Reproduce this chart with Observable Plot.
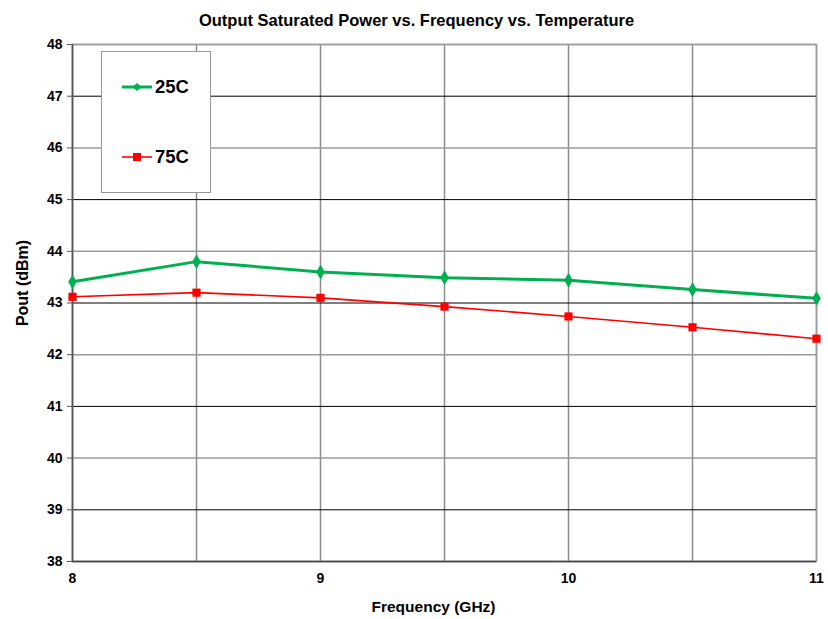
<!DOCTYPE html>
<html>
<head>
<meta charset="utf-8">
<script src="https://cdn.jsdelivr.net/npm/d3@7"></script>
<script src="https://cdn.jsdelivr.net/npm/@observablehq/plot@0.6"></script>
<style>
  html, body { margin: 0; padding: 0; background: #fff; }
  #wrap { position: relative; width: 828px; height: 619px; }
  #legend { position: absolute; left: 101px; top: 51px; width: 110px; height: 142px;
    border: 1.5px solid #999; background: #fff; box-sizing: border-box;
    font-family: "Liberation Sans", Arial, sans-serif; font-weight: bold; font-size: 18.5px; color: #000; }
  .item { position: absolute; left: 20px; display: flex; align-items: center; }
  .item svg { margin-right: 2px; }
</style>
</head>
<body>
<div id="wrap"></div>
<script>
const freq = [8, 8.5, 9, 9.5, 10, 10.5, 11];
const pout25 = [43.41, 43.80, 43.60, 43.49, 43.44, 43.26, 43.09];
const pout75 = [43.12, 43.20, 43.10, 42.93, 42.74, 42.53, 42.31];
const seriesNames = ["25C", "75C"];
const seriesColors = ["#00B050", "#FF0000"];
const yTicks = [38, 39, 40, 41, 42, 43, 44, 45, 46, 47, 48];
const xTicks = [8, 9, 10, 11];
const xGrid = [8, 8.5, 9, 9.5, 10, 10.5, 11];
const titleText = "Output Saturated Power vs. Frequency vs. Temperature";
const xLabel = "Frequency (GHz)";
const yLabel = "Pout (dBm)";

const d25 = freq.map((f, i) => ({f, p: pout25[i]}));
const d75 = freq.map((f, i) => ({f, p: pout75[i]}));

const font = "Liberation Sans, Arial, sans-serif";

const chart = Plot.plot({
  width: 828,
  height: 619,
  marginLeft: 72,
  marginRight: 12,
  marginTop: 44,
  marginBottom: 58,
  style: {fontFamily: font, background: "#fff", overflow: "visible"},
  x: {domain: [8, 11]},
  y: {domain: [38, 48]},
  marks: [
    Plot.ruleX(xGrid, {stroke: "#8c8c8c", strokeWidth: 1.5}),
    Plot.ruleY(yTicks.filter(d => d % 2 === 0), {stroke: "#9a9a9a", strokeWidth: 1.5}),
    Plot.ruleY(yTicks.filter(d => d % 2 === 1), {stroke: "#000", strokeWidth: 1}),
    Plot.frame({stroke: "#9a9a9a", strokeWidth: 1.5}),
    Plot.ruleX([8], {stroke: "#555", strokeWidth: 1.5}),
    Plot.ruleY([38], {stroke: "#444", strokeWidth: 1.5}),
    Plot.axisY({ticks: yTicks, tickSize: 5, tickPadding: 5, tickFormat: d => d, label: null,
      fontSize: 14, fontWeight: "bold", stroke: "#555", color: "#000"}),
    Plot.axisX({ticks: xTicks, tickSize: 0, tickPadding: 12, tickFormat: d => d, label: null,
      fontSize: 14, fontWeight: "bold", color: "#000"}),
    Plot.line(d75, {x: "f", y: "p", stroke: seriesColors[1], strokeWidth: 1.6}),
    Plot.dot(d75, {x: "f", y: "p", symbol: "square", fill: seriesColors[1], r: 4.6}),
    Plot.line(d25, {x: "f", y: "p", stroke: seriesColors[0], strokeWidth: 3}),
    Plot.dot(d25, {x: "f", y: "p", symbol: "diamond", fill: seriesColors[0], r: 4.5}),
    Plot.text([titleText], {frameAnchor: "top", dy: -30, dx: -28, fontSize: 16.5, fontWeight: "bold", fill: "#000"}),
    Plot.text([xLabel], {frameAnchor: "bottom", dy: 50, dx: -11, fontSize: 15.5, fontWeight: "bold", fill: "#000"}),
    Plot.text([yLabel], {frameAnchor: "left", textAnchor: "middle", dx: -50, dy: -20, rotate: -90, fontSize: 16, fontWeight: "bold", fill: "#000"})
  ]
});

const wrap = document.getElementById("wrap");
wrap.appendChild(chart);

const legend = document.createElement("div");
legend.id = "legend";
seriesNames.forEach((name, i) => {
  const item = document.createElement("div");
  item.className = "item";
  item.style.top = (i === 0 ? 24 : 94) + "px";
  const sym = i === 0
    ? `<polygon points="15,1 19.5,5 15,9 10.5,5" fill="${seriesColors[i]}"/>`
    : `<rect x="11" y="1" width="8" height="8" fill="${seriesColors[i]}"/>`;
  item.innerHTML = `<svg width="31" height="10"><line x1="0" x2="30" y1="5" y2="5" stroke="${seriesColors[i]}" stroke-width="${i === 0 ? 3 : 1.6}"/>${sym}</svg><span>${name}</span>`;
  legend.appendChild(item);
});
wrap.appendChild(legend);
</script>
</body>
</html>
